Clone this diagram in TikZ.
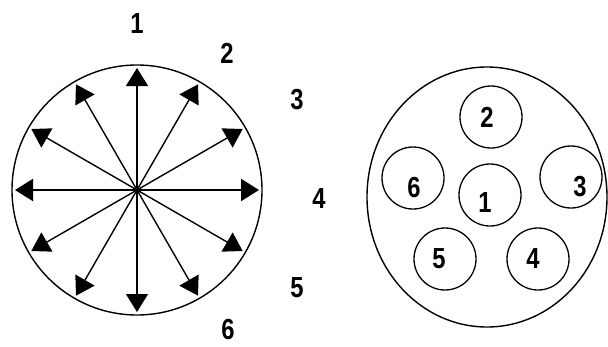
\documentclass[tikz,border=0pt]{standalone}
\usepackage{fontspec}
\setmainfont{Liberation Sans}
\usetikzlibrary{arrows.meta,shapes.geometric}
\newcommand\narrowdigit[1]{\scalebox{0.82}[1]{#1}}
\begin{document}
\begin{tikzpicture}[x=1pt,y=-1pt,
  num/.style={font=\fontsize{29}{29}\selectfont\bfseries, inner sep=0pt},
  bigring/.style={draw, circle, line width=1.4pt, minimum size=250pt, inner sep=0pt, outer sep=0pt},
  ring/.style={draw, ellipse, line width=1.4pt, minimum width=240pt, minimum height=260pt, inner sep=0pt, outer sep=0pt},
  pin/.style={draw, circle, line width=1.3pt, minimum size=62pt, inner sep=0pt},
  ray/.style={line width=1.4pt, -{Triangle[length=18pt,width=22pt]}, shorten >=3pt}
]
\useasboundingbox (0,0) rectangle (608,346);
% left circle with rays
\node[bigring] (L) at (137,190) {};
\coordinate (c) at (137,190);
\foreach \a in {30,60,120,150,210,240,300,330}{
  \draw[ray] (c) -- (L.\a);
}
\draw[ray] (c) -- (L.90);
\draw[ray] (c) -- (L.270);
\draw[ray, line width=2.2pt] (c) -- (L.0);
\draw[ray, line width=2.2pt] (c) -- (L.180);
% outer labels
\node[num] (n1) at (137,24) {\narrowdigit{1}};
\node[num] (n2) at (227,53) {\narrowdigit{2}};
\node[num] (n3) at (297,100) {\narrowdigit{3}};
\node[num] (n4) at (319,199) {\narrowdigit{4}};
\node[num] (n5) at (297,288) {\narrowdigit{5}};
\node[num] (n6) at (228,330) {\narrowdigit{6}};
% right connector face
\node[ring] (R) at (487,197) {};
\node[pin] (p2) at (491,117) {};
\node[pin] (p6) at (413,178) {};
\node[pin] (p1) at (490,195) {};
\node[pin] (p3) at (571,177) {};
\node[pin] (p5) at (445,259) {};
\node[pin] (p4) at (538,259) {};
\node[num] (t2) at (487,117) {\narrowdigit{2}};
\node[num] (t6) at (414,188) {\narrowdigit{6}};
\node[num] (t1) at (485,203) {\narrowdigit{1}};
\node[num] (t3) at (580,187) {\narrowdigit{3}};
\node[num] (t5) at (439,259) {\narrowdigit{5}};
\node[num] (t4) at (533,259) {\narrowdigit{4}};
\end{tikzpicture}
\end{document}
